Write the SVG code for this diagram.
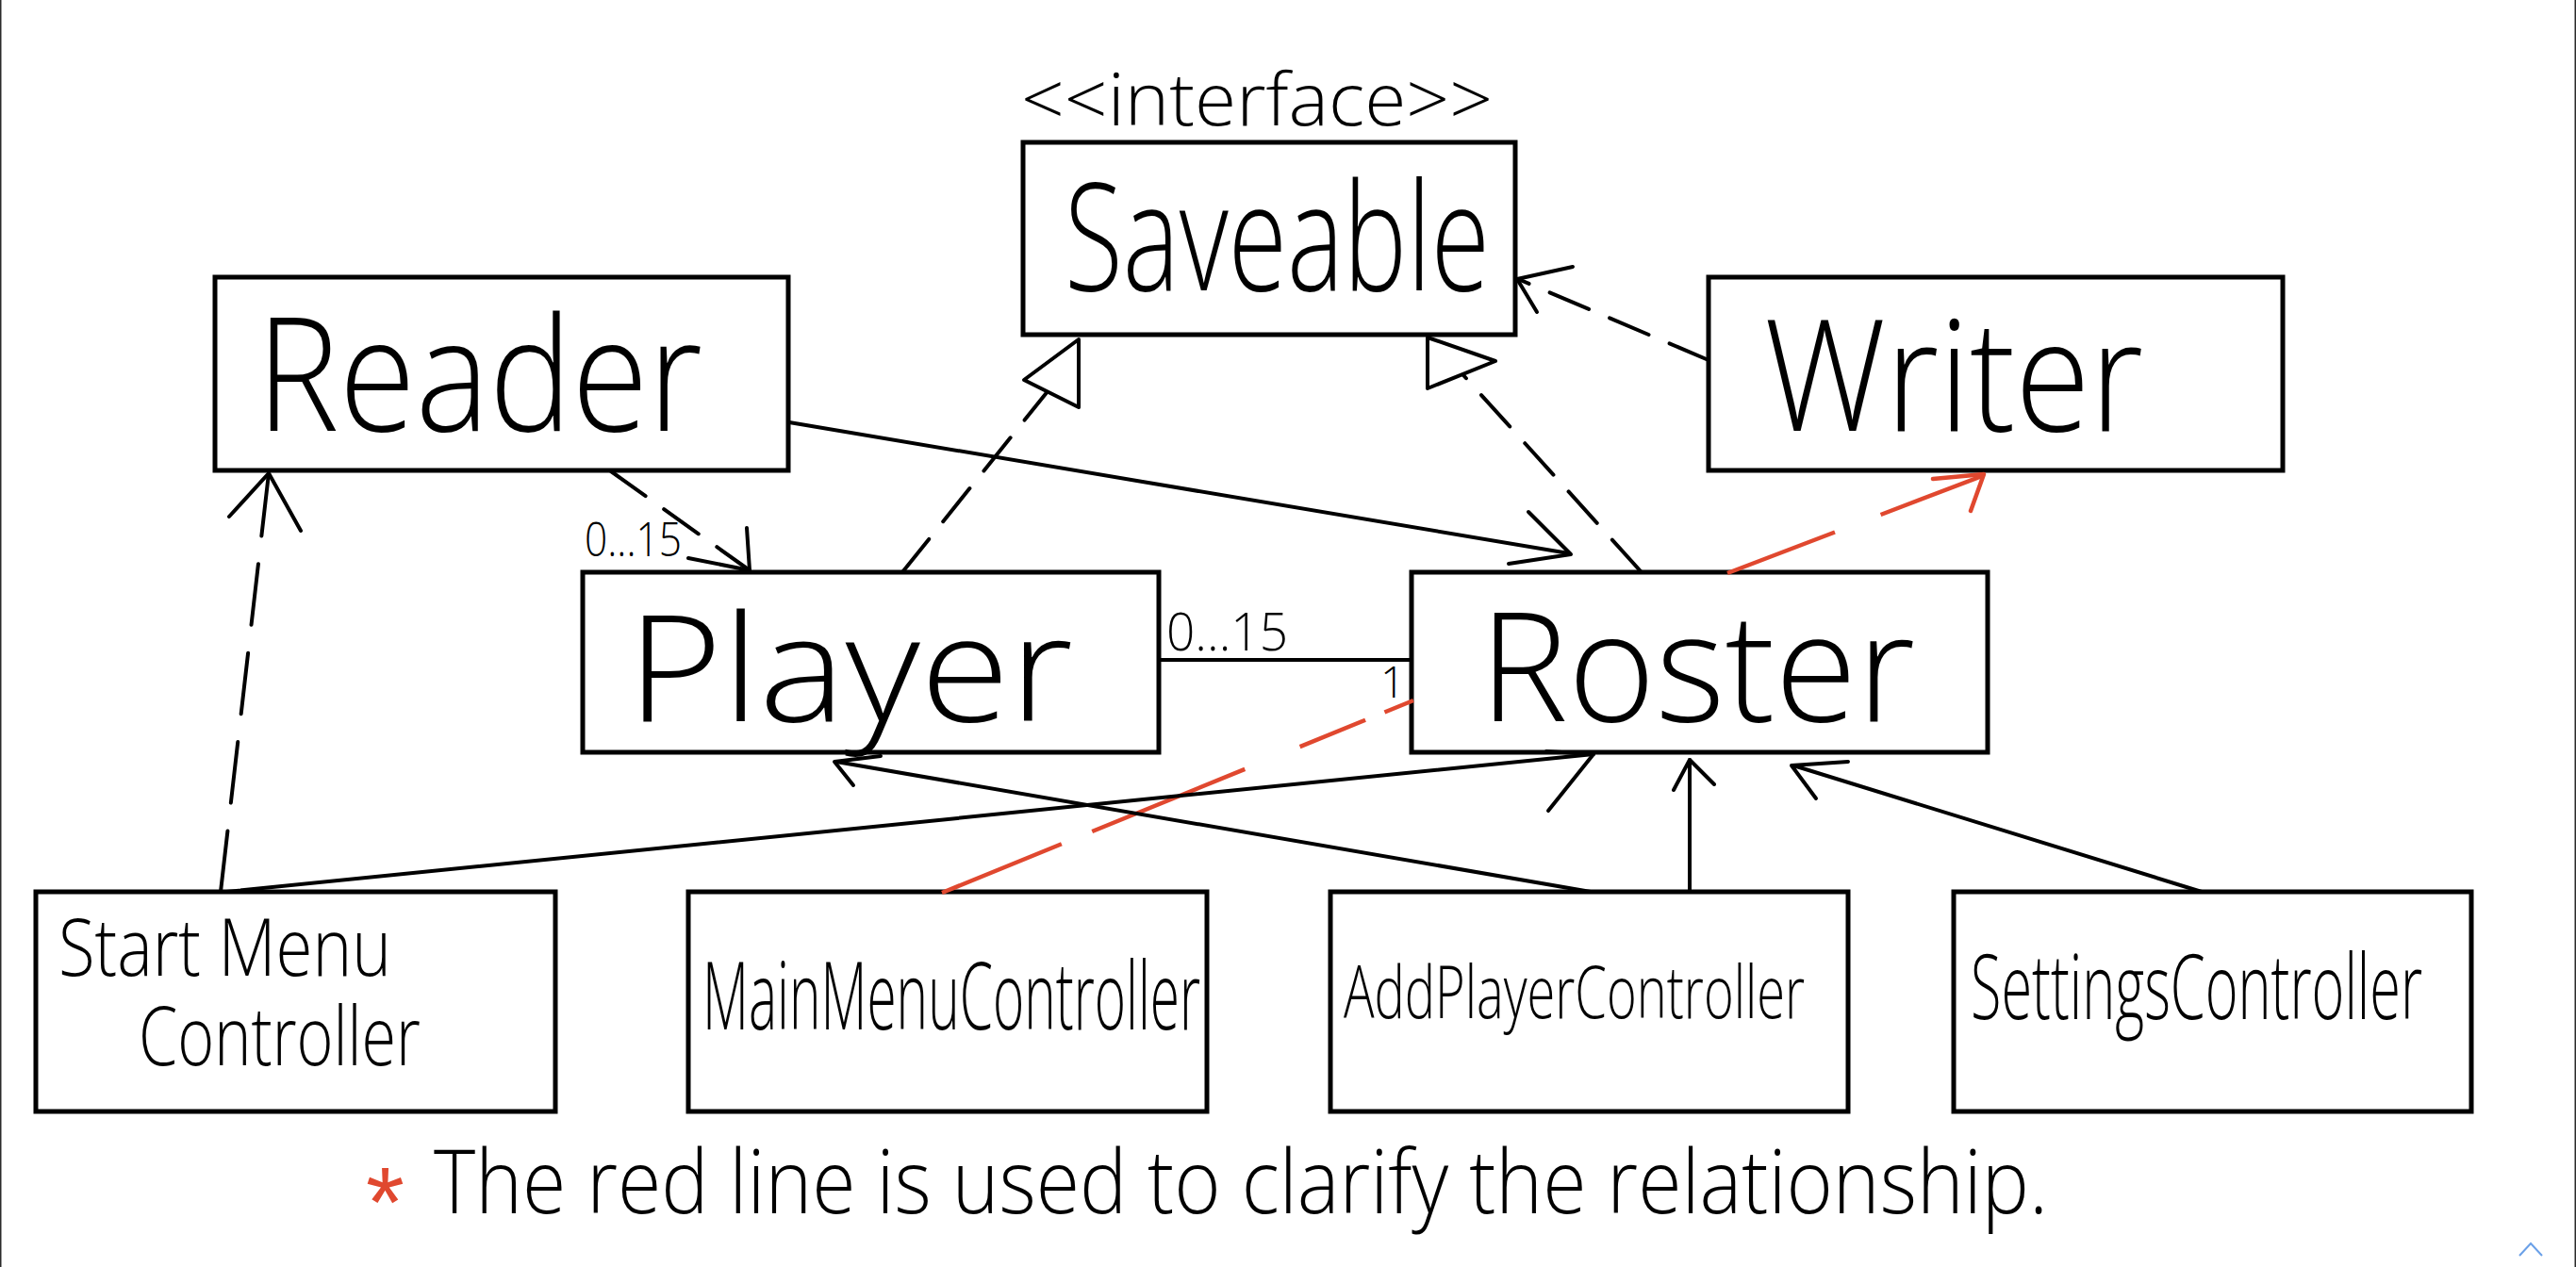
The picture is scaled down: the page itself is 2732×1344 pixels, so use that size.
<svg xmlns="http://www.w3.org/2000/svg" width="2732" height="1344" viewBox="0 0 2732 1344">
<style>
.box{fill:#fff;stroke:#000;stroke-width:5}
.t{font-family:"Open Sans","Liberation Sans",sans-serif;font-weight:300;fill:#000}
.ln{fill:none;stroke:#000;stroke-width:4;stroke-linecap:round}
.dash{stroke-dasharray:45 24}
.red{fill:none;stroke:#E0482F;stroke-width:4.5}
.head{fill:none;stroke:#000;stroke-width:4;stroke-linecap:round;stroke-linejoin:round}
.rhead{fill:none;stroke:#E0482F;stroke-width:4.5;stroke-linecap:round;stroke-linejoin:round}
.tri{fill:#fff;stroke:#000;stroke-width:4;stroke-linejoin:round}
</style>
<rect x="0" y="0" width="2732" height="1344" fill="#fff"/>
<line x1="0.75" y1="0" x2="0.75" y2="1344" stroke="#2a2a2a" stroke-width="1.5"/>
<line x1="2731.25" y1="0" x2="2731.25" y2="1344" stroke="#2a2a2a" stroke-width="1.5"/>

<g id="saveable">
<rect class="box" x="1085" y="151" width="522" height="204"/>
<text class="t"><tspan x="1083" y="133" font-size="78" textLength="500" lengthAdjust="spacingAndGlyphs">&lt;&lt;interface&gt;&gt;</tspan><tspan x="1129" y="308" font-size="158" textLength="451" lengthAdjust="spacingAndGlyphs">Saveable</tspan></text>
</g>
<g id="reader">
<rect class="box" x="228" y="294" width="608" height="205"/>
<text class="t" x="272" y="457" font-size="168" textLength="473" lengthAdjust="spacingAndGlyphs">Reader</text>
</g>
<g id="writer">
<rect class="box" x="1812" y="294" width="609" height="205"/>
<text class="t" x="1871" y="457" font-size="164" textLength="402" lengthAdjust="spacingAndGlyphs">Writer</text>
</g>
<g id="player">
<rect class="box" x="618" y="607" width="611" height="191"/>
<text class="t" x="665" y="765" font-size="157" textLength="473" lengthAdjust="spacingAndGlyphs">Player</text>
</g>
<g id="roster">
<rect class="box" x="1497" y="607" width="611" height="191"/>
<text class="t" x="1569" y="765" font-size="160" textLength="462" lengthAdjust="spacingAndGlyphs">Roster</text>
</g>
<g id="startMenuController">
<rect class="box" x="38" y="946" width="551" height="233"/>
<text class="t"><tspan x="62" y="1035" font-size="85" textLength="353" lengthAdjust="spacingAndGlyphs">Start Menu</tspan><tspan x="147" y="1130" font-size="87" textLength="299" lengthAdjust="spacingAndGlyphs">Controller</tspan></text>
</g>
<g id="mainMenuController">
<rect class="box" x="730" y="946" width="550" height="233"/>
<text class="t" x="745" y="1092" font-size="100" textLength="528" lengthAdjust="spacingAndGlyphs">MainMenuController</text>
</g>
<g id="addPlayerController">
<rect class="box" x="1411" y="946" width="549" height="233"/>
<text class="t" x="1425" y="1080" font-size="78" textLength="489" lengthAdjust="spacingAndGlyphs">AddPlayerController</text>
</g>
<g id="settingsController">
<rect class="box" x="2072" y="946" width="549" height="233"/>
<text class="t" x="2090" y="1081" font-size="96" textLength="479" lengthAdjust="spacingAndGlyphs">SettingsController</text>
</g>

<g id="connectors">
<!-- Reader -> Roster -->
<line class="ln" x1="837" y1="448" x2="1664" y2="587"/>
<polyline class="head" points="1621,543 1666,588 1600,598"/>
<!-- Reader -> Player (dashed) -->
<line class="ln dash" x1="648" y1="500" x2="795" y2="605"/>
<polyline class="head" points="792,560 795,605 730,592"/>
<!-- Player -> Saveable (realization) -->
<line class="ln dash" x1="957" y1="607" x2="1112" y2="414"/>
<polygon class="tri" points="1144,360 1086,403 1144,432"/>
<!-- Roster -> Saveable (realization) -->
<line class="ln dash" x1="1740" y1="606" x2="1552" y2="398"/>
<polygon class="tri" points="1514,358 1586,383 1514,412"/>
<!-- Writer -> Saveable (dashed) -->
<line class="ln dash" x1="1812" y1="382" x2="1610" y2="296"/>
<polyline class="head" points="1668,283 1609,296 1630,331"/>
<!-- Player - Roster association -->
<line class="ln" x1="1229" y1="700" x2="1497" y2="700"/>
<text class="t" x="620" y="590" font-size="50" textLength="103" lengthAdjust="spacingAndGlyphs">0...15</text>
<text class="t" x="1237" y="690" font-size="55" textLength="129" lengthAdjust="spacingAndGlyphs">0...15</text>
<text class="t" x="1464" y="740" font-size="46">1</text>
<!-- Roster -> Writer (red) -->
<line class="red" x1="1832" y1="608" x2="2102" y2="505" style="stroke-dasharray:122 52"/>
<polyline class="rhead" points="2050,508 2104,503 2090,542"/>
<!-- MainMenuController - Roster (red) -->
<line class="red" x1="999" y1="947" x2="1499" y2="743" style="stroke-dasharray:137 35 175 63 75 22 40"/>
<!-- StartMenuController -> Reader (dashed) -->
<line class="ln" x1="234" y1="946" x2="285" y2="502" style="stroke-dasharray:65 30"/>
<polyline class="head" points="243,548 285,502 319,563"/>
<!-- StartMenuController -> Roster -->
<line class="ln" x1="240" y1="946" x2="1690" y2="800"/>
<polyline class="head" points="1640,797 1690,800 1642,860"/>
<!-- AddPlayerController -> Player -->
<line class="ln" x1="1687" y1="946" x2="887" y2="808"/>
<polyline class="head" points="934,802 885,808 905,833"/>
<!-- AddPlayerController -> Roster -->
<line class="ln" x1="1792" y1="946" x2="1792" y2="806"/>
<polyline class="head" points="1775,838 1792,806 1818,832"/>
<!-- SettingsController -> Roster -->
<line class="ln" x1="2335" y1="946" x2="1902" y2="812"/>
<polyline class="head" points="1960,808 1900,812 1926,847"/>
</g>

<g id="note">
<text class="t"><tspan x="388" y="1312" font-family="Liberation Sans, sans-serif" font-size="105" fill="#E0482F">*</tspan><tspan x="460" y="1287" font-size="94" textLength="1712" lengthAdjust="spacingAndGlyphs">The red line is used to clarify the relationship.</tspan></text>
</g>
<polyline points="2672,1332 2684,1319 2696,1332" fill="none" stroke="#6AA0E8" stroke-width="2"/>
</svg>
